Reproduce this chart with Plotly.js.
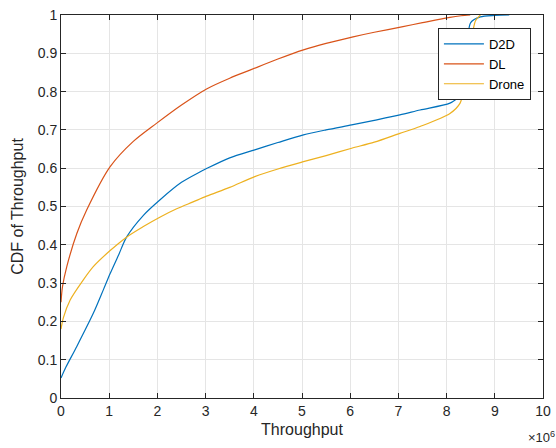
<!DOCTYPE html>
<html>
<head>
<meta charset="utf-8">
<script src="https://cdn.plot.ly/plotly-3.0.1.min.js"></script>
<style>body{margin:0;padding:0;background:#fff;}#chart{width:556px;height:448px;}</style>
</head>
<body>
<div id="chart"></div>
<script>
// Throughput in units of 1e6
const d2dX = [0, 0.1, 0.325, 0.67, 0.88, 1.02, 1.2, 1.36, 1.71, 2.05, 2.5, 2.88, 3.02, 3.5, 4.02, 4.5, 5.03, 5.5, 6.03, 6.5, 7.03, 7.45, 8.07, 8.25, 8.35, 8.38, 8.42, 8.5, 8.7, 9.0, 9.3];
const d2dY = [0.052, 0.08, 0.134, 0.221, 0.283, 0.325, 0.375, 0.42, 0.477, 0.517, 0.563, 0.59, 0.599, 0.627, 0.648, 0.667, 0.687, 0.7, 0.713, 0.725, 0.739, 0.752, 0.77, 0.785, 0.796, 0.81, 0.9, 0.98, 0.995, 0.999, 1.0];

const dlX = [0, 0.03, 0.12, 0.33, 0.53, 1.02, 1.5, 1.98, 2.5, 3.02, 3.5, 3.92, 4.5, 5.03, 5.5, 6.06, 6.5, 7.07, 7.5, 8.07, 8.3, 8.49];
const dlY = [0.25, 0.29, 0.343, 0.43, 0.49, 0.604, 0.67, 0.717, 0.765, 0.807, 0.835, 0.856, 0.885, 0.909, 0.926, 0.943, 0.955, 0.969, 0.98, 0.994, 0.998, 1.0];

const droneX = [0, 0.05, 0.19, 0.46, 0.67, 1.02, 1.36, 1.7, 2.05, 2.4, 2.74, 3.02, 3.5, 4.02, 4.5, 5.03, 5.5, 6.03, 6.5, 7.03, 7.45, 8.07, 8.28, 8.35, 8.45, 8.55, 8.6, 8.7];
const droneY = [0.18, 0.21, 0.256, 0.308, 0.343, 0.385, 0.42, 0.447, 0.472, 0.494, 0.512, 0.527, 0.55, 0.578, 0.598, 0.617, 0.633, 0.652, 0.668, 0.691, 0.709, 0.743, 0.77, 0.804, 0.88, 0.96, 0.985, 1.0];

const seriesNames = ['D2D', 'DL', 'Drone'];
const xTicks = [0,1,2,3,4,5,6,7,8,9,10];
const yTicks = [0,0.1,0.2,0.3,0.4,0.5,0.6,0.7,0.8,0.9,1];
const yTickText = ['0','0.1','0.2','0.3','0.4','0.5','0.6','0.7','0.8','0.9','1'];

const colors = ['#0072BD', '#D95319', '#EDB120'];
const xs = [d2dX, dlX, droneX];
const ys = [d2dY, dlY, droneY];

const traces = seriesNames.map((n, i) => ({
  x: xs[i], y: ys[i], name: n, type: 'scatter', mode: 'lines',
  line: {color: colors[i], width: 1.2, shape: 'spline', smoothing: 0.8}
}));

const FONT = 'Liberation Sans, Arial, sans-serif';
const axisCommon = {
  showline: true, linecolor: '#262626', linewidth: 1, mirror: 'ticks',
  ticks: 'inside', ticklen: 5, tickcolor: '#262626',
  showgrid: true, gridcolor: '#e5e5e5', gridwidth: 1,
  zeroline: false, tickfont: {family: FONT, size: 14, color: '#262626'}
};

const layout = {
  width: 556, height: 448,
  margin: {l: 61, r: 13, t: 15, b: 50},
  paper_bgcolor: '#ffffff', plot_bgcolor: '#ffffff',
  showlegend: true,
  legend: {
    x: 0.782, y: 0.966, xanchor: 'left', yanchor: 'top',
    bordercolor: '#262626', borderwidth: 1, bgcolor: '#ffffff',
    font: {family: FONT, size: 13, color: '#000'},
    tracegroupgap: 0, itemwidth: 40
  },
  xaxis: Object.assign({}, axisCommon, {
    range: [0, 10], tickvals: xTicks, ticktext: xTicks.map(String),
    title: {text: 'Throughput', font: {family: FONT, size: 16, color: '#262626'}, standoff: 6},
    automargin: false
  }),
  yaxis: Object.assign({}, axisCommon, {
    range: [0, 1], tickvals: yTicks, ticktext: yTickText,
    title: {text: 'CDF of Throughput', font: {family: FONT, size: 16, color: '#262626'}, standoff: 10},
    automargin: false
  }),
  annotations: [{
    xref: 'paper', yref: 'paper', x: 1.03, y: -0.075, xanchor: 'right', yanchor: 'top',
    text: '×10<sup>6</sup>', showarrow: false,
    font: {family: FONT, size: 13, color: '#262626'}
  }]
};

Plotly.newPlot('chart', traces, layout, {displayModeBar: false, staticPlot: true});
</script>
</body>
</html>
